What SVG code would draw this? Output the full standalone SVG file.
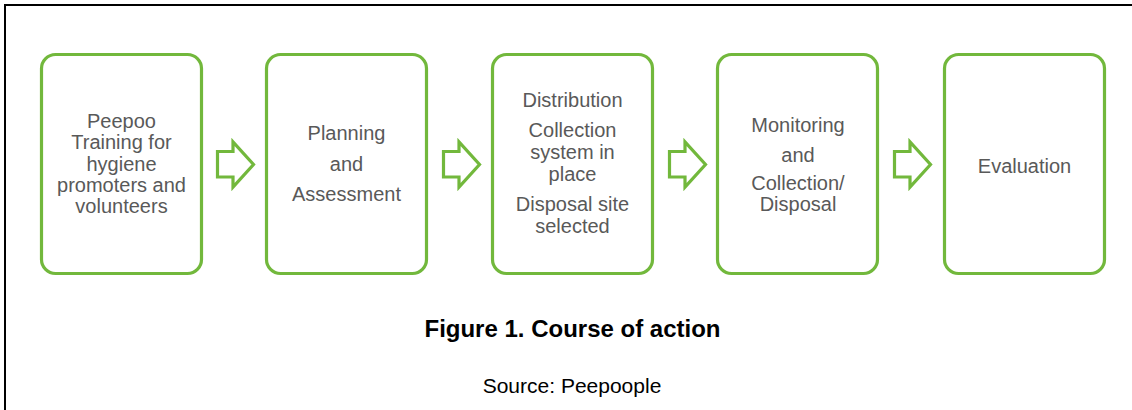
<svg xmlns="http://www.w3.org/2000/svg" width="1132" height="410" viewBox="0 0 1132 410">
<style>
.box{fill:#fff;stroke:#72b83c;stroke-width:3.2}
.arr{fill:#fff;stroke:#72b83c;stroke-width:3.2;stroke-linejoin:miter}
.t{font-family:"Liberation Sans",Arial,sans-serif;font-size:20px;fill:#595959;text-anchor:middle}
.cap{font-family:"Liberation Sans",Arial,sans-serif;text-anchor:middle;fill:#000}
</style>
<rect width="1132" height="410" fill="#fff"/>
<path d="M5 410 V5 H1132" fill="none" stroke="#000" stroke-width="2"/>
<g id="n1"><rect class="box" x="41.5" y="54.5" width="160" height="219" rx="14"/>
<text class="t" x="121.5" y="128">Peepoo</text>
<text class="t" x="121.5" y="149">Training for</text>
<text class="t" x="121.5" y="170.5">hygiene</text>
<text class="t" x="121.5" y="192">promoters and</text>
<text class="t" x="121.5" y="212.5">volunteers</text></g>
<g id="n2"><rect class="box" x="266.5" y="54.5" width="160" height="219" rx="14"/>
<text class="t" x="346.5" y="140">Planning</text>
<text class="t" x="346.5" y="171">and</text>
<text class="t" x="346.5" y="201">Assessment</text></g>
<g id="n3"><rect class="box" x="492.5" y="54.5" width="160" height="219" rx="14"/>
<text class="t" x="572.5" y="107">Distribution</text>
<text class="t" x="572.5" y="137">Collection</text>
<text class="t" x="572.5" y="159">system in</text>
<text class="t" x="572.5" y="181">place</text>
<text class="t" x="572.5" y="211">Disposal site</text>
<text class="t" x="572.5" y="233">selected</text></g>
<g id="n4"><rect class="box" x="717.5" y="54.5" width="160" height="219" rx="14"/>
<text class="t" x="798" y="132">Monitoring</text>
<text class="t" x="798" y="161.5">and</text>
<text class="t" x="798" y="190">Collection/</text>
<text class="t" x="798" y="211">Disposal</text></g>
<g id="n5"><rect class="box" x="944.5" y="54.5" width="160" height="219" rx="14"/>
<text class="t" x="1024.5" y="172.5">Evaluation</text></g>
<g id="connectors">
<polygon class="arr" points="217.5,151.5 233,151.5 233,142 253.5,164.5 233,187 233,177 217.5,177"/>
<polygon class="arr" points="443.5,151.5 459,151.5 459,142 479.5,164.5 459,187 459,177 443.5,177"/>
<polygon class="arr" points="669.5,151.5 685,151.5 685,142 705.5,164.5 685,187 685,177 669.5,177"/>
<polygon class="arr" points="894.5,151.5 910,151.5 910,142 930.5,164.5 910,187 910,177 894.5,177"/>
</g>
<text class="cap" x="572.5" y="337" font-size="24" font-weight="bold">Figure 1. Course of action</text>
<text class="cap" x="572" y="393" font-size="21">Source: Peepoople</text>
</svg>
